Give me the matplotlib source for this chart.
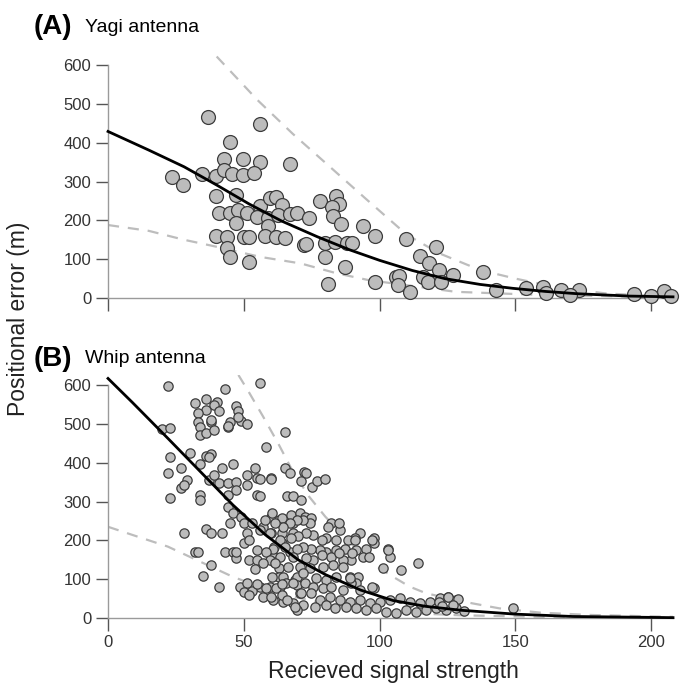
import matplotlib
matplotlib.use("Agg")
import matplotlib.pyplot as plt

plt.rcParams['font.family'] = ['Liberation Sans', 'DejaVu Sans']

# panel A - Yagi antenna
yagi_x = [36.9, 55.9, 44.9, 42.6, 49.8, 55.9, 66.9, 23.7, 27.7, 34.7, 39.9, 42.6, 45.8, 49.8,
          53.8, 39.9, 47.1, 40.9, 44.9, 47.9, 51.0, 47.1, 55.9, 54.9, 59.8, 62.0, 64.2, 58.9,
          62.6, 66.9, 69.4, 74.0, 58.9, 39.9, 43.9, 50.0, 52.0, 57.7, 62.0, 65.1, 43.9, 44.9,
          51.8, 72.1, 73.0, 77.9, 84.1, 84.9, 82.6, 82.8, 85.9, 93.9, 98.2, 79.8, 83.5, 88.0,
          90.0, 80.0, 87.1, 81.0, 98.2, 106.0, 109.8, 120.8, 114.7, 118.0, 122.0, 127.0, 116.0,
          117.8, 122.6, 107.1, 106.7, 111.0, 138.2, 142.9, 153.9, 160.0, 166.8, 173.3, 169.9,
          193.8, 199.9, 204.8, 207.2, 161.3]
yagi_y = [467, 448, 403, 357, 358, 351, 345, 311, 290, 320, 313, 330, 320, 317,
          321, 263, 265, 220, 220, 227, 218, 193, 237, 208, 257, 261, 240, 205,
          214, 216, 218, 207, 186, 160, 158, 156, 158, 161, 158, 154, 128, 106,
          94, 137, 139, 250, 263, 241, 235, 210, 191, 186, 160, 143, 145, 143,
          143, 105, 79, 35, 42, 55, 152, 132, 108, 91, 71, 59, 55,
          42, 42, 57, 34, 15, 68, 21, 25, 29, 21, 21, 8,
          10, 5, 19, 5, 14]

yagi_fit_x = [0, 15, 28, 40, 52, 64, 77, 89, 100, 112, 124, 137, 149, 161, 173, 192, 208]
yagi_fit_y = [429, 381, 338, 291, 242, 198, 158, 124, 97, 71, 50, 35, 25, 17, 11, 5, 3]
yagi_hi_x = [40, 55, 68, 82, 95, 110, 122, 137, 150, 165, 183, 207]
yagi_hi_y = [622, 510, 423, 336, 255, 163, 115, 72, 50, 28, 12, 3]
yagi_lo_x = [0, 15, 28, 40, 56, 71, 84, 96, 110, 128, 159, 207]
yagi_lo_y = [188, 173, 150, 132, 106, 89, 64, 46, 33, 16, 8, 2]

# panel B - Whip antenna
whip_x = [22, 43, 56, 32, 36, 40, 39, 41, 36, 33, 33, 34, 38, 34, 36, 47, 48, 45, 44, 49, 51,
          20, 23, 65, 58, 38, 39, 44, 48,
          30, 23, 36, 38, 34, 27, 22, 29, 27, 28, 23, 34, 34, 37, 42, 46, 39, 41, 44, 47, 51,
          54, 55, 60, 44, 47, 51, 55, 65, 67, 66, 68, 37, 72, 73, 71, 75, 77, 80, 60, 56, 56, 71,
          44, 46, 49, 45, 50, 53, 51, 57, 60, 63, 68, 60, 64, 68, 28, 36, 38, 42, 50, 52, 55,
          61, 61, 64, 67, 32, 33, 43, 46, 47, 47, 52, 55, 54, 61, 63, 63, 38, 35, 69,
          60.2, 63.9, 67.5, 70.6, 72.4, 74.9, 74.3, 71.8, 69.4, 66.9, 64.5, 61.4, 57.7,
          82.2, 81, 85.3, 92.6, 90.8, 88.4, 84.1, 80.4, 78.6, 75.5, 73, 70, 67.5, 63.2, 59.6, 55.9,
          98.1, 98.1, 95.1, 91.4, 87.1, 84.1, 80.4, 77.9, 74.9, 71.8, 69.4, 65.1, 60.8, 58.3,
          93.9, 89.6, 86.5, 82.2, 78.6, 75.5, 73, 68.1, 63.2, 59.6, 103, 103.7, 101.2, 108, 114.1,
          86.5, 82.8, 79.2, 74.3, 70.6, 66.3, 61.4, 57.1, 60.2, 64.5, 69.4, 71.8, 76.7, 80.4,
          84.1, 88.9, 92, 91.4,
          55.9, 59.6, 63.2, 65.7, 69.4, 72.4, 75.5, 79.2, 82.2, 86.5, 89.6, 92.6, 98.1, 70.6,
          74.9, 77.9, 81.6, 85.3, 88.9, 92.6, 96.3, 100, 103.7, 107.4, 111, 114.7, 118.4, 122.1,
          125.1, 128.2, 64.5, 68.1, 71.8, 76.1, 80.4, 83.5, 87.7, 91.4, 95.1, 98.8, 102.5, 106.1,
          109.8, 113.5, 117.2, 120.9, 124.5, 128.2, 69.4, 60.8, 57.1,
          85, 85, 90, 96, 103, 97, 91, 97, 149, 89,
          125, 129, 122, 127, 123, 131,
          41, 48.5, 51, 50, 53, 55, 52, 58, 62, 64, 68, 60, 64, 66, 69, 71]
whip_y = [598, 589, 605, 553, 563, 557, 549, 532, 536, 528, 506, 493, 504, 472, 476, 545, 532,
          506, 493, 508, 500, 486, 489, 480, 440, 510, 485, 495, 519,
          426, 414, 418, 423, 397, 386, 374, 356, 334, 342, 308, 317, 304, 356, 386, 396, 369,
          347, 347, 351, 369, 386, 360, 360, 317, 330, 343, 317, 386, 373, 314, 314, 414, 377,
          373, 354, 338, 354, 357, 357, 357, 314, 304,
          287, 270, 261, 244, 244, 244, 218, 235, 261, 253, 244, 218, 218, 218, 218, 229, 218,
          218, 193, 201, 175, 184, 158, 193, 171, 171, 171, 171, 171, 154, 169, 149, 149, 125,
          145, 128, 106, 137, 109, 98,
          270, 257, 265, 270, 261, 257, 244, 253, 253, 244, 235, 244, 253,
          244, 235, 227, 218, 205, 201, 201, 205, 201, 214, 218, 210, 205, 201, 218, 227,
          205, 192, 179, 175, 179, 175, 171, 175, 179, 184, 179, 184, 179, 171,
          158, 149, 149, 158, 162, 149, 154, 158, 158, 149, 179, 158, 128, 124, 143,
          132, 136, 132, 128, 132, 132, 141, 141, 106, 106, 106, 115, 102, 98,
          106, 106, 106, 89,
          81, 81, 81, 89, 85, 89, 81, 77, 81, 72, 89, 72, 77, 64,
          64, 46, 55, 46, 42, 46, 38, 42, 46, 51, 42, 38, 42, 51,
          55, 46, 42, 38, 34, 29, 34, 25, 29, 25, 21, 25, 16, 12,
          21, 16, 21, 25, 21, 25, 21, 46, 55,
          244, 167, 167, 158, 175, 201, 201, 81, 25, 102,
          55, 48, 42, 34, 30, 19,
          79, 81, 89, 68, 70, 87, 59, 77, 77, 87, 89, 55, 59, 46, 29, 64]

whip_fit_x = [0, 9, 22, 34, 46, 58, 70, 80, 93, 105, 117, 130, 150, 171, 208]
whip_fit_y = [617, 555, 463, 377, 291, 214, 150, 112, 72, 45, 30, 20, 10, 4, 1]
whip_hi_x = [48, 52, 57, 63, 68, 74, 80, 87, 93, 99, 105, 111, 117, 125, 134, 144, 159, 177, 208]
whip_hi_y = [626, 580, 520, 445, 378, 313, 261, 210, 166, 132, 106, 81, 64, 51, 38, 25, 14, 8, 3]
whip_lo_x = [0, 9, 22, 34, 46, 58, 70, 82, 95, 110, 130, 160, 208]
whip_lo_y = [235, 214, 184, 145, 106, 75, 52, 35, 22, 13, 7, 3, 1]

x_ticks = [0, 50, 100, 150, 200]
y_ticks = [0, 100, 200, 300, 400, 500, 600]

fig = plt.figure(figsize=(6.85, 6.91), dpi=100)
ax_a = fig.add_axes([0.1577, 0.5687, 0.8248, 0.3512])
ax_b = fig.add_axes([0.1577, 0.1056, 0.8248, 0.3512])


def style(ax, show_xlabels):
    ax.set_xlim(0, 208)
    ax.set_ylim(0, 625)
    for side in ['top', 'right']:
        ax.spines[side].set_visible(False)
    for side in ['left', 'bottom']:
        ax.spines[side].set_color('#9a9a9a')
        ax.spines[side].set_linewidth(1.0)
    ax.spines['left'].set_bounds(0, 600)
    ax.set_xticks(x_ticks)
    ax.set_yticks(y_ticks)
    ax.tick_params(axis='both', direction='out', length=9, width=1.0, color='#555555',
                   labelsize=12, labelcolor='#333333', pad=3)
    if not show_xlabels:
        ax.set_xticklabels([])


def panel(ax, px, py, size, fx, fy, hx, hy, lx, ly):
    ax.plot(hx, hy, color='#bdbdbd', lw=1.6, ls=(0, (5, 4)), zorder=2)
    ax.plot(lx, ly, color='#bdbdbd', lw=1.6, ls=(0, (5, 4)), zorder=2)
    ax.scatter(px, py, s=size, facecolor='#bcbcbc', edgecolor='#3c3c3c', linewidth=0.9,
               zorder=3, clip_on=False)
    ax.plot(fx, fy, color='black', lw=2.0, zorder=4, clip_on=False)


panel(ax_a, yagi_x, yagi_y, 100, yagi_fit_x, yagi_fit_y, yagi_hi_x, yagi_hi_y, yagi_lo_x, yagi_lo_y)
panel(ax_b, whip_x, whip_y, 45, whip_fit_x, whip_fit_y, whip_hi_x, whip_hi_y, whip_lo_x, whip_lo_y)
style(ax_a, False)
style(ax_b, True)

fig.text(0.049, 0.951, '(A)', fontsize=20, fontweight='bold', va='baseline')
fig.text(0.124, 0.953, 'Yagi antenna', fontsize=14, va='baseline')
fig.text(0.049, 0.471, '(B)', fontsize=20, fontweight='bold', va='baseline')
fig.text(0.124, 0.474, 'Whip antenna', fontsize=14, va='baseline')

fig.text(0.575, 0.019, 'Recieved signal strength', fontsize=16.5, ha='center', va='baseline',
         color='#222222')
fig.text(0.027, 0.538, 'Positional error (m)', fontsize=16.5, rotation=90, ha='center',
         va='center', color='#222222')

fig.savefig('out.png', dpi=100)
